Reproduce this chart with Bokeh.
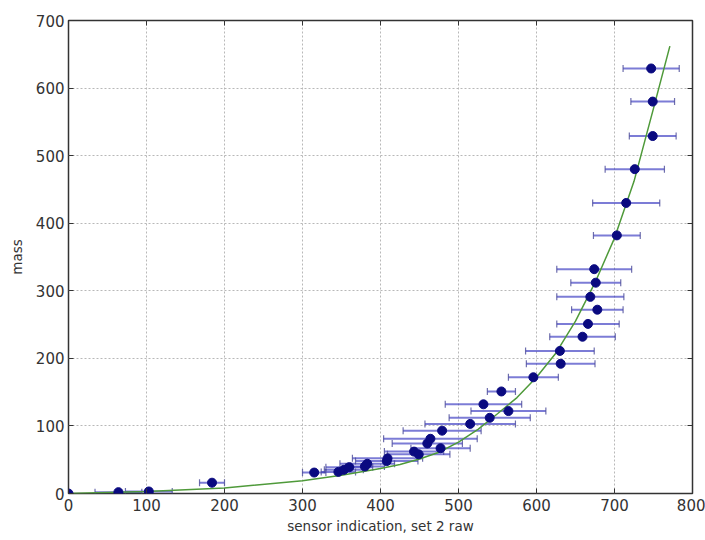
from bokeh.plotting import figure
from bokeh.models import ColumnDataSource, Whisker, TeeHead, LinearAxis, Range1d, CustomJSTickFormatter, FixedTicker
from bokeh.embed import file_html
from bokeh.resources import INLINE

# measured points
sensor = [0, 64, 103, 184, 315, 346, 353, 360, 380, 383, 408, 409, 443, 449, 460, 464, 477, 479,
          515, 540, 564, 532, 555, 596, 631, 630, 659, 666, 678, 669, 676, 674, 703, 715, 726, 749, 749, 747]
mass = [0, 2, 3, 16, 31, 32, 35, 39, 40, 44, 48, 52, 62, 58, 74, 81, 67, 93,
        103, 112, 122, 132, 151, 172, 192, 211, 232, 251, 272, 291, 312, 332, 382, 430, 480, 529, 580, 629]
sensor_err = [3, 30, 30, 16, 15, 22, 25, 30, 25, 35, 40, 45, 38, 40, 45, 60, 38, 50,
              58, 52, 48, 49, 18, 32, 44, 44, 42, 40, 33, 43, 32, 48, 30, 43, 38, 30, 28, 36]

# fitted curve
fit_x = [0, 100, 200, 300, 350, 400, 425, 450, 475, 500, 525, 550, 575, 600, 625, 650, 675, 700, 725, 750, 771]
fit_y = [0, 3, 8, 19, 27, 37, 43, 51, 61, 76, 95, 118, 142, 172, 208, 255, 312, 378, 462, 570, 662]

x_ticks = [0, 100, 200, 300, 400, 500, 600, 700, 800]
y_ticks = [0, 100, 200, 300, 400, 500, 600, 700]

lower = [s - e for s, e in zip(sensor, sensor_err)]
upper = [s + e for s, e in zip(sensor, sensor_err)]
src = ColumnDataSource(dict(x=sensor, y=mass, lower=lower, upper=upper))

p = figure(width=705, height=540, output_backend="svg", toolbar_location=None,
           x_range=Range1d(0, 800), y_range=Range1d(0, 700))
p.min_border_left = 68
p.min_border_right = 13
p.min_border_top = 20
p.min_border_bottom = 47
p.background_fill_color = "white"
p.border_fill_color = "white"
p.outline_line_color = "#333333"
p.outline_line_width = 1.5

font = "DejaVu Sans"
for ax in (p.xaxis[0], p.yaxis[0]):
    ax.major_tick_in = 5
    ax.major_tick_out = 0
    ax.minor_tick_in = 0
    ax.minor_tick_out = 0
    ax.axis_line_color = None
    ax.major_tick_line_color = "#333333"
    ax.major_label_text_font = font
    ax.major_label_text_font_size = "15px"
    ax.major_label_text_color = "#333333"
    ax.axis_label_text_font = font
    ax.axis_label_text_font_size = "13.5px"
    ax.axis_label_text_font_style = "normal"
    ax.axis_label_text_color = "#333333"
p.xaxis[0].ticker = FixedTicker(ticks=x_ticks)
p.yaxis[0].ticker = FixedTicker(ticks=y_ticks)
p.xaxis[0].axis_label = "sensor indication, set 2 raw"
p.yaxis[0].axis_label = "mass"
p.xaxis[0].axis_label_standoff = 4
p.yaxis[0].axis_label_standoff = 8
p.xaxis[0].major_label_standoff = 5
p.yaxis[0].major_label_standoff = 4

blank = CustomJSTickFormatter(code="return ''")
top = LinearAxis(ticker=FixedTicker(ticks=x_ticks), formatter=blank)
right = LinearAxis(ticker=FixedTicker(ticks=y_ticks), formatter=blank)
for ax in (top, right):
    ax.major_tick_in = 5
    ax.major_tick_out = 0
    ax.minor_tick_in = 0
    ax.minor_tick_out = 0
    ax.axis_line_color = None
    ax.major_tick_line_color = "#333333"
    ax.major_label_standoff = 0
p.add_layout(top, "above")
p.add_layout(right, "right")

p.xgrid.ticker = FixedTicker(ticks=x_ticks)
p.ygrid.ticker = FixedTicker(ticks=y_ticks)
for g in (p.xgrid[0], p.ygrid[0]):
    g.grid_line_color = "#b8b8b8"
    g.grid_line_dash = "2 2"
    g.grid_line_width = 1

w = Whisker(source=src, base="y", lower="lower", upper="upper", dimension="width",
            line_color="#3535c0", line_alpha=0.65, line_width=2,
            lower_head=TeeHead(size=7, line_color="#4a4a99", line_alpha=0.8, line_width=1.2),
            upper_head=TeeHead(size=7, line_color="#4a4a99", line_alpha=0.8, line_width=1.2))
p.add_layout(w)

p.line(fit_x, fit_y, line_color="#4f9a3a", line_width=1.5)
p.scatter("x", "y", source=src, size=9, fill_color="#0a0a80", line_color="#0a0a80")

open("out.html", "w").write(file_html(p, INLINE))
